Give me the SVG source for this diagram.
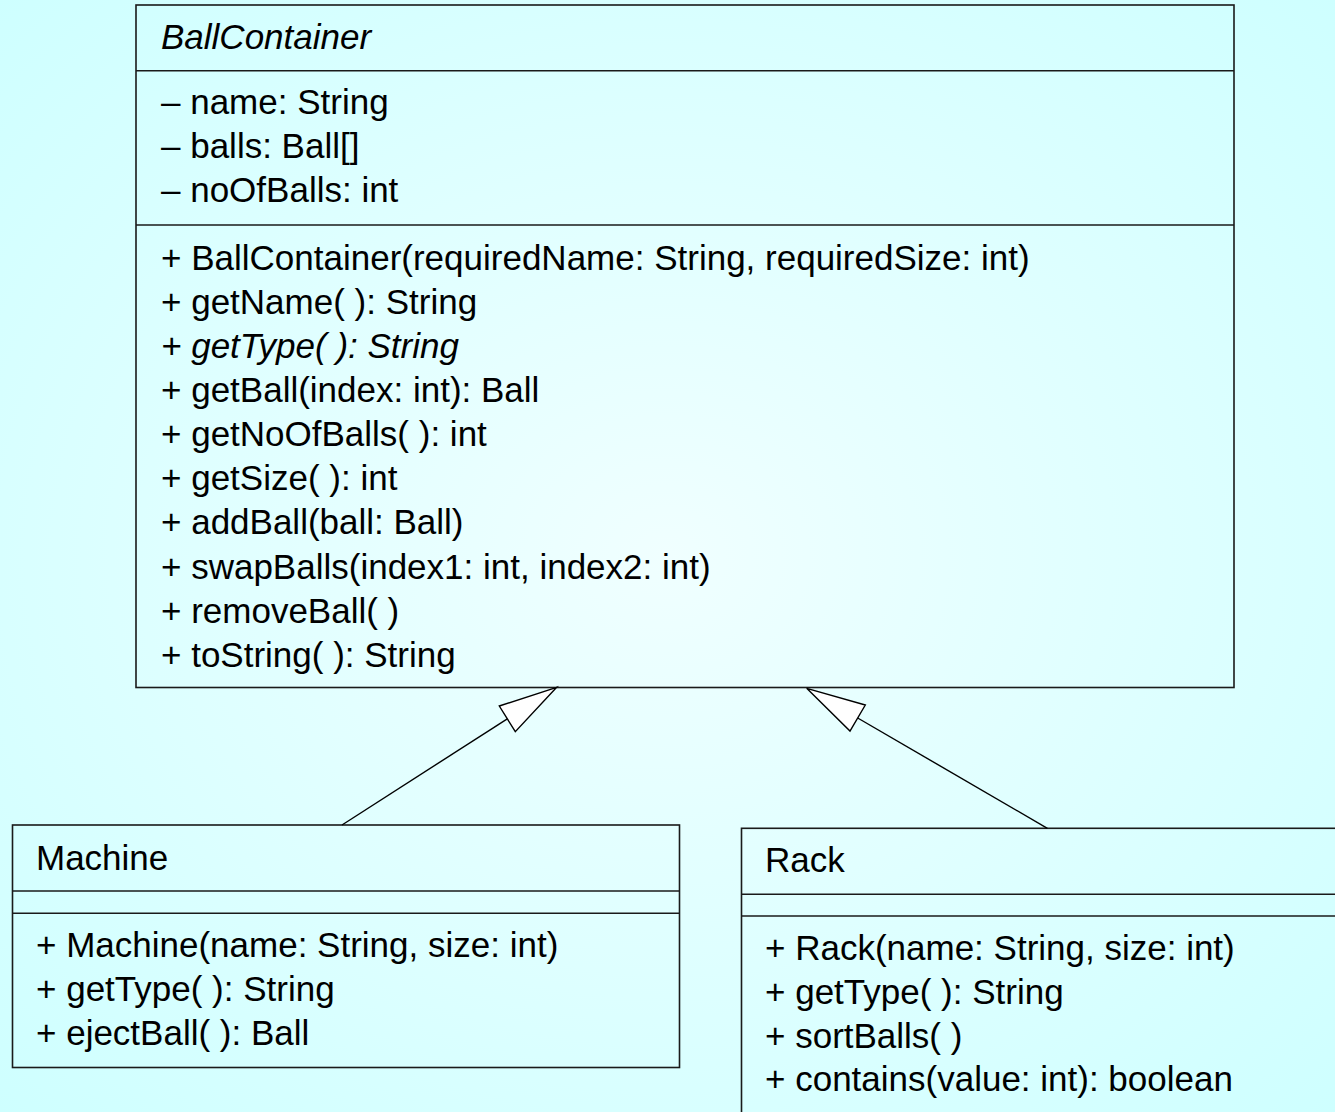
<svg xmlns="http://www.w3.org/2000/svg" width="1335" height="1112" viewBox="0 0 1335 1112">
  <defs>
    <radialGradient id="bg" cx="50%" cy="50%" r="75%">
      <stop offset="0" stop-color="#f0ffff"/>
      <stop offset="1" stop-color="#ccffff"/>
    </radialGradient>
    <style>
      .box { fill: none; stroke: #1a1a1a; stroke-width: 1.6; }
      .sep { stroke: #1a1a1a; stroke-width: 1.6; }
      .txt { font-family: "Liberation Sans", Arial, sans-serif; font-size: 35px; fill: #000; }
      .it { font-style: italic; }
      .edge { stroke: #000; stroke-width: 1.4; fill: none; }
      .head { fill: #ffffff; stroke: #000; stroke-width: 1.4; stroke-linejoin: miter; }
    </style>
  </defs>

  <rect width="1335" height="1112" fill="url(#bg)"/>

  <!-- Abstract superclass -->
  <g id="BallContainer">
    <rect class="box" x="136" y="5" width="1098" height="682.5"/>
    <line class="sep" x1="136" y1="70.8" x2="1234" y2="70.8"/>
    <line class="sep" x1="136" y1="225" x2="1234" y2="225"/>
    <text class="txt it" x="161" y="48.5">BallContainer</text>
    <text class="txt" x="161" y="113.5">– name: String</text>
    <text class="txt" x="161" y="157.5">– balls: Ball[]</text>
    <text class="txt" x="161" y="201.5">– noOfBalls: int</text>
    <text class="txt" x="161" y="269.5">+ BallContainer(requiredName: String, requiredSize: int)</text>
    <text class="txt" x="161" y="313.7">+ getName( ): String</text>
    <text class="txt it" x="161" y="357.8">+ getType( ): String</text>
    <text class="txt" x="161" y="402">+ getBall(index: int): Ball</text>
    <text class="txt" x="161" y="446.1">+ getNoOfBalls( ): int</text>
    <text class="txt" x="161" y="490.3">+ getSize( ): int</text>
    <text class="txt" x="161" y="534.4">+ addBall(ball: Ball)</text>
    <text class="txt" x="161" y="578.6">+ swapBalls(index1: int, index2: int)</text>
    <text class="txt" x="161" y="622.7">+ removeBall( )</text>
    <text class="txt" x="161" y="666.9">+ toString( ): String</text>
  </g>

  <!-- Subclass Machine -->
  <g id="Machine">
    <rect class="box" x="12.5" y="825" width="667" height="242.5"/>
    <line class="sep" x1="12.5" y1="891" x2="679.5" y2="891"/>
    <line class="sep" x1="12.5" y1="913.3" x2="679.5" y2="913.3"/>
    <text class="txt" x="36" y="869.5">Machine</text>
    <text class="txt" x="36" y="957">+ Machine(name: String, size: int)</text>
    <text class="txt" x="36" y="1001">+ getType( ): String</text>
    <text class="txt" x="36" y="1045">+ ejectBall( ): Ball</text>
  </g>

  <!-- Subclass Rack -->
  <g id="Rack">
    <rect class="box" x="741.5" y="828.3" width="620" height="320"/>
    <line class="sep" x1="741.5" y1="894.3" x2="1345" y2="894.3"/>
    <line class="sep" x1="741.5" y1="916" x2="1345" y2="916"/>
    <text class="txt" x="765" y="872">Rack</text>
    <text class="txt" x="765" y="960">+ Rack(name: String, size: int)</text>
    <text class="txt" x="765" y="1004">+ getType( ): String</text>
    <text class="txt" x="765" y="1047.5">+ sortBalls( )</text>
    <text class="txt" x="765" y="1091">+ contains(value: int): boolean</text>
  </g>

  <!-- Generalisation connectors -->
  <g id="connectors">
    <line class="edge" x1="342" y1="825" x2="507.3" y2="718.8"/>
    <polygon class="head" points="556.7,687.3 499.3,706 515.3,731.7"/>
    <line class="edge" x1="1047.4" y1="828.3" x2="857.7" y2="718"/>
    <polygon class="head" points="806.7,688.3 865.3,705 850,731"/>
  </g>
</svg>
